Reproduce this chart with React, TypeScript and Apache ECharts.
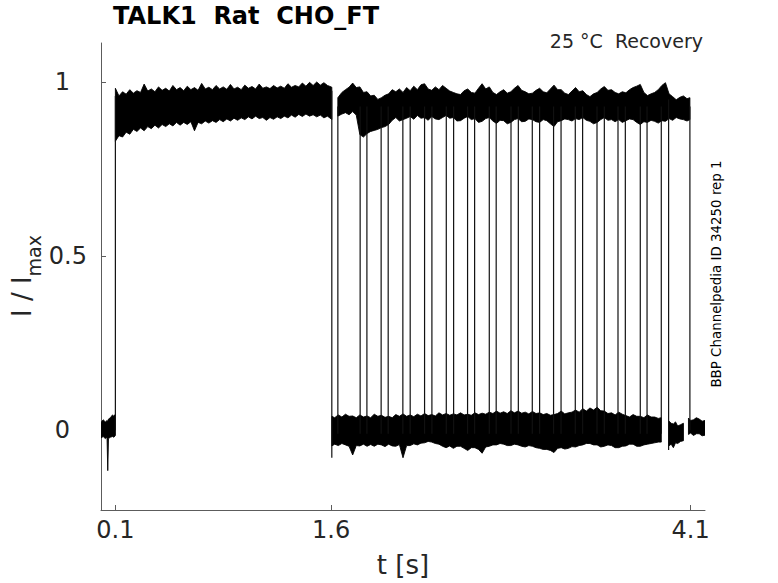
import React, { useEffect, useRef } from "react";
import * as echarts from "echarts";

// ---- axis ticks ----
const xTickValues = [0.1, 1.6, 4.1];
const yTickValues = [0, 0.5, 1];

// ---- holding baseline before the activating step (t < 0.1 s) ----
const baseT = [0.0, 0.015, 0.03, 0.042, 0.047, 0.052, 0.065, 0.08, 0.09, 0.1];
const baseHi = [0.022, 0.03, 0.024, 0.028, 0.026, 0.032, 0.036, 0.044, 0.04, 0.046];
const baseLo = [-0.022, -0.018, -0.024, -0.02, -0.116, -0.024, -0.02, -0.018, -0.02, -0.015];

// ---- open level during first pulse (0.1 .. 1.6 s), envelope of all sweeps ----
const openT = [
  0.1, 0.125, 0.15, 0.175, 0.2, 0.225, 0.25, 0.275, 0.3, 0.325, 0.35, 0.375, 0.4, 0.425, 0.45, 0.475,
  0.5, 0.525, 0.55, 0.575, 0.6, 0.625, 0.65, 0.675, 0.7, 0.725, 0.75, 0.775, 0.8, 0.825, 0.85, 0.875,
  0.9, 0.925, 0.95, 0.975, 1.0, 1.025, 1.05, 1.075, 1.1, 1.125, 1.15, 1.175, 1.2, 1.225, 1.25, 1.275,
  1.3, 1.325, 1.35, 1.375, 1.4, 1.425, 1.45, 1.475, 1.5, 1.525, 1.55, 1.575, 1.6, 1.605,
];
const openHi = [
  0.982, 0.96, 0.972, 0.965, 0.978, 0.968, 0.975, 0.97, 0.994, 0.974, 0.98, 0.972, 0.986, 0.976, 0.982, 0.974,
  0.99, 0.978, 0.984, 0.975, 0.988, 0.978, 0.984, 0.976, 0.996, 0.98, 0.985, 0.978, 0.99, 0.98, 0.986, 0.979,
  0.993, 0.98, 0.985, 0.978, 0.991, 0.982, 0.987, 0.98, 0.994, 0.982, 0.986, 0.981, 0.99, 0.983, 0.988, 0.982,
  0.995, 0.985, 0.99, 0.986, 0.997, 0.988, 0.999, 0.99, 1.0, 0.991, 0.998, 0.99, 0.986, 0.985,
];
const openLo = [
  0.83, 0.846, 0.842, 0.856, 0.85, 0.864, 0.858, 0.868, 0.86, 0.872, 0.866, 0.876, 0.868, 0.878, 0.872, 0.88,
  0.874, 0.884, 0.876, 0.884, 0.878, 0.886, 0.86, 0.884, 0.88, 0.888, 0.882, 0.889, 0.884, 0.892, 0.886, 0.894,
  0.888, 0.896, 0.89, 0.897, 0.892, 0.9, 0.894, 0.902, 0.895, 0.898, 0.89, 0.898, 0.893, 0.9, 0.895, 0.902,
  0.897, 0.905, 0.899, 0.907, 0.901, 0.908, 0.902, 0.906, 0.9, 0.905, 0.897, 0.902, 0.894, 0.892,
];

// ---- recovered open level, envelope of the sweeps that have re-opened ----
const recT = [
  1.647, 1.675, 1.7, 1.725, 1.75, 1.775, 1.8, 1.825, 1.85, 1.875, 1.9, 1.925, 1.95, 1.975,
  2.0, 2.025, 2.05, 2.075, 2.1, 2.125, 2.15, 2.175, 2.2, 2.225, 2.25, 2.275, 2.3, 2.325, 2.35, 2.375,
  2.4, 2.425, 2.45, 2.475, 2.5, 2.525, 2.55, 2.575, 2.6, 2.625, 2.65, 2.675, 2.7, 2.725, 2.75, 2.775,
  2.8, 2.825, 2.85, 2.875, 2.9, 2.925, 2.95, 2.975, 3.0, 3.025, 3.05, 3.075, 3.1, 3.125, 3.15, 3.175,
  3.2, 3.225, 3.25, 3.275, 3.3, 3.325, 3.35, 3.375, 3.4, 3.425, 3.45, 3.475, 3.5, 3.525, 3.55, 3.575,
  3.6, 3.625, 3.65, 3.675, 3.7, 3.725, 3.75, 3.775, 3.8, 3.825, 3.85, 3.875, 3.9, 3.925, 3.95, 3.975,
  4.0, 4.025, 4.05, 4.075, 4.095,
];
const recHi = [
  0.955, 0.97, 0.978, 0.985, 0.997, 0.984, 0.986, 0.97, 0.972, 0.96, 0.962, 0.95, 0.955, 0.962,
  0.966, 0.978, 0.972, 0.98, 0.97, 0.984, 0.975, 0.988, 0.978, 0.992, 0.995, 0.98, 0.976, 0.986, 0.978, 0.99,
  0.982, 0.974, 0.97, 0.966, 0.964, 0.975, 0.98, 0.97, 0.968, 0.982, 0.995, 0.98, 0.986, 0.97, 0.964, 0.972,
  0.978, 0.968, 0.972, 0.982, 0.99, 0.976, 0.972, 0.966, 0.968, 0.976, 0.982, 0.972, 0.969, 0.98, 0.991, 0.978,
  0.978, 0.968, 0.964, 0.974, 0.984, 0.972, 0.975, 0.964, 0.958, 0.966, 0.97, 0.98, 0.987, 0.976, 0.978, 0.97,
  0.966, 0.972, 0.969, 0.978, 0.984, 0.988, 0.993, 0.97, 0.961, 0.966, 0.97, 0.978, 0.99, 0.998, 0.966, 0.958,
  0.949, 0.956, 0.96, 0.952, 0.955,
];
const recLo = [
  0.902, 0.908, 0.912, 0.906, 0.915, 0.905, 0.849, 0.842, 0.852, 0.858, 0.861, 0.864, 0.869, 0.872,
  0.878, 0.89, 0.898, 0.888, 0.892, 0.896, 0.901, 0.893, 0.904, 0.896, 0.898, 0.89, 0.901, 0.894, 0.892, 0.898,
  0.904, 0.896, 0.898, 0.888, 0.889, 0.896, 0.901, 0.892, 0.895, 0.884, 0.887, 0.895, 0.898, 0.888, 0.881, 0.89,
  0.889, 0.88, 0.884, 0.892, 0.895, 0.886, 0.887, 0.894, 0.892, 0.886, 0.884, 0.892, 0.889, 0.88, 0.872, 0.886,
  0.889, 0.894, 0.892, 0.888, 0.895, 0.892, 0.898, 0.89, 0.887, 0.88, 0.884, 0.892, 0.898, 0.89, 0.892, 0.886,
  0.892, 0.884, 0.889, 0.894, 0.892, 0.884, 0.878, 0.886, 0.884, 0.89, 0.887, 0.882, 0.889, 0.887, 0.895, 0.89,
  0.898, 0.894, 0.892, 0.888, 0.892,
];

// ---- closed level after the 1.6 s step, envelope of the sweeps not yet re-opened ----
const closedT = [
  1.605, 1.625, 1.65, 1.675, 1.7, 1.725, 1.75, 1.775, 1.8, 1.825, 1.85, 1.875, 1.9, 1.925, 1.95, 1.975,
  2.0, 2.025, 2.05, 2.075, 2.1, 2.125, 2.15, 2.175, 2.2, 2.225, 2.25, 2.275, 2.3, 2.325, 2.35, 2.375,
  2.4, 2.425, 2.45, 2.475, 2.5, 2.525, 2.55, 2.575, 2.6, 2.625, 2.65, 2.675, 2.7, 2.725, 2.75, 2.775,
  2.8, 2.825, 2.85, 2.875, 2.9, 2.925, 2.95, 2.975, 3.0, 3.025, 3.05, 3.075, 3.1, 3.125, 3.15, 3.175,
  3.2, 3.225, 3.25, 3.275, 3.3, 3.325, 3.35, 3.375, 3.4, 3.425, 3.45, 3.475, 3.5, 3.525, 3.55, 3.575,
  3.6, 3.625, 3.65, 3.675, 3.7, 3.725, 3.75, 3.775, 3.8, 3.825, 3.85, 3.875, 3.896,
];
const closedHi = [
  0.04, 0.036, 0.044, 0.038, 0.046, 0.04, 0.041, 0.036, 0.044, 0.038, 0.041, 0.036, 0.046, 0.04, 0.043, 0.037,
  0.04, 0.036, 0.045, 0.04, 0.047, 0.04, 0.044, 0.039, 0.046, 0.041, 0.048, 0.042, 0.045, 0.041, 0.05, 0.044,
  0.048, 0.043, 0.047, 0.044, 0.05, 0.044, 0.046, 0.043, 0.05, 0.045, 0.049, 0.046, 0.052, 0.048, 0.055, 0.049,
  0.053, 0.048, 0.056, 0.05, 0.055, 0.049, 0.052, 0.047, 0.054, 0.048, 0.05, 0.045, 0.048, 0.043, 0.045, 0.048,
  0.055, 0.047, 0.05, 0.052, 0.058, 0.052, 0.062, 0.055, 0.064, 0.058, 0.066, 0.056, 0.055, 0.048, 0.05, 0.044,
  0.052, 0.046, 0.042, 0.038, 0.045, 0.04, 0.04, 0.036, 0.044, 0.038, 0.038, 0.034, 0.036,
];
const closedLo = [
  -0.045, -0.04, -0.044, -0.038, -0.042, -0.046, -0.071, -0.044, -0.045, -0.04, -0.046, -0.041, -0.046, -0.04, -0.042, -0.047,
  -0.04, -0.045, -0.046, -0.041, -0.079, -0.044, -0.044, -0.039, -0.042, -0.037, -0.036, -0.032, -0.034, -0.038, -0.04, -0.046,
  -0.05, -0.045, -0.052, -0.046, -0.046, -0.052, -0.058, -0.05, -0.05, -0.055, -0.066, -0.048, -0.046, -0.042, -0.042, -0.038,
  -0.04, -0.044, -0.044, -0.04, -0.042, -0.046, -0.048, -0.044, -0.046, -0.05, -0.052, -0.055, -0.055, -0.058, -0.064, -0.052,
  -0.05, -0.054, -0.052, -0.047, -0.048, -0.044, -0.042, -0.038, -0.038, -0.042, -0.042, -0.048, -0.046, -0.042, -0.044, -0.05,
  -0.05, -0.046, -0.045, -0.04, -0.04, -0.046, -0.046, -0.042, -0.04, -0.038, -0.036, -0.034, -0.034,
];

// ---- short closed pieces near the end ----
const tailAT = [3.947, 3.965, 3.98, 3.995, 4.01, 4.03, 4.05];
const tailAHi = [0.027, 0.02, 0.018, 0.024, 0.012, 0.016, 0.02];
const tailALo = [-0.045, -0.04, -0.05, -0.036, -0.038, -0.032, -0.03];
const tailBT = [4.085, 4.1, 4.12, 4.14, 4.16, 4.18, 4.2];
const tailBHi = [0.035, 0.028, 0.03, 0.036, 0.032, 0.026, 0.028];
const tailBLo = [-0.012, -0.008, -0.015, -0.01, -0.01, -0.016, -0.014];

// ---- step transitions (time, lower end, upper end) ----
const stepT = [0.1, 1.605, 1.647, 1.802, 1.849, 1.948, 1.997, 2.099, 2.15, 2.25, 2.301, 2.401, 2.452, 2.549, 2.598, 2.7, 2.748, 2.851, 2.902, 2.999, 3.05, 3.147, 3.199, 3.298, 3.349, 3.449, 3.5, 3.595, 3.646, 3.75, 3.797, 3.896, 3.947, 4.095];
const stepLo = [0.0, -0.079, -0.01, -0.01, -0.01, -0.01, -0.01, -0.01, -0.01, -0.01, -0.01, -0.01, -0.01, -0.01, -0.01, -0.01, -0.01, -0.01, -0.01, -0.01, -0.01, -0.01, -0.01, -0.01, -0.01, -0.01, -0.01, -0.01, -0.01, -0.01, -0.01, -0.01, -0.057, 0.0];
const stepHi = [0.96, 0.975, 0.93, 0.93, 0.93, 0.93, 0.93, 0.93, 0.93, 0.93, 0.93, 0.93, 0.93, 0.93, 0.93, 0.93, 0.93, 0.93, 0.93, 0.93, 0.93, 0.93, 0.93, 0.93, 0.93, 0.93, 0.93, 0.93, 0.93, 0.93, 0.93, 0.93, 0.95, 0.93];

const FONT = "DejaVu Sans";
const TXT = "#262626";
const AX = "#5c5c5c";

function bandSeries(t: number[], lo: number[], hi: number[]) {
  return {
    type: "custom",
    silent: true,
    clip: true,
    data: t.map((v, i) => [v, lo[i], hi[i]]),
    encode: { x: 0, y: [1, 2] },
    renderItem: (params: any, api: any) => {
      if (params.dataIndex !== 0) return null;
      const pts: number[][] = [];
      for (let i = 0; i < t.length; i++) pts.push(api.coord([t[i], hi[i]]));
      for (let i = t.length - 1; i >= 0; i--) pts.push(api.coord([t[i], lo[i]]));
      return {
        type: "polygon",
        shape: { points: pts },
        style: { fill: "#000", stroke: "#000", lineWidth: 0.9, lineJoin: "miter" },
      };
    },
  };
}

export default function App() {
  const ref = useRef<HTMLDivElement>(null);
  useEffect(() => {
    document.body.style.margin = "0";
    const chart = echarts.init(ref.current!, null, { renderer: "svg" });
    chart.setOption({
      animation: false,
      backgroundColor: "#fff",
      grid: { left: 101, top: 43, width: 604, height: 469, containLabel: false },
      xAxis: {
        type: "value",
        min: 0,
        max: 4.2,
        name: "t [s]",
        nameLocation: "middle",
        nameGap: 55,
        nameTextStyle: { fontFamily: FONT, fontSize: 26, color: TXT, verticalAlign: "middle" },
        axisLine: { show: true, onZero: false, lineStyle: { color: AX, width: 1 } },
        axisTick: { show: true, inside: true, length: 5, customValues: xTickValues, lineStyle: { color: AX } },
        axisLabel: {
          customValues: xTickValues,
          margin: 8,
          fontFamily: FONT,
          fontSize: 24,
          color: TXT,
          formatter: (v: number) => String(v),
        },
        splitLine: { show: false },
      },
      yAxis: {
        type: "value",
        min: -0.229,
        max: 1.112,
        axisLine: { show: true, onZero: false, lineStyle: { color: AX, width: 1 } },
        axisTick: { show: true, inside: true, length: 5, customValues: yTickValues, lineStyle: { color: AX } },
        axisLabel: {
          customValues: yTickValues,
          margin: 14,
          fontFamily: FONT,
          fontSize: 24,
          color: TXT,
          formatter: (v: number) => (v === 0.5 ? "0.5" : "{n|" + String(v) + "}"),
          rich: { n: { fontFamily: FONT, fontSize: 24, color: TXT, padding: [0, 17, 0, 0] } },
        },
        splitLine: { show: false },
      },
      graphic: [
        {
          type: "text",
          left: 113,
          top: 4,
          style: { text: "TALK1  Rat  CHO_FT", font: `bold 24px "${FONT}"`, fill: "#000" },
        },
        {
          type: "text",
          x: 703,
          y: 41,
          style: { text: "25 °C  Recovery", font: `19px "${FONT}"`, fill: TXT, align: "right", verticalAlign: "middle" },
        },
        {
          type: "text",
          x: 716,
          y: 274,
          rotation: Math.PI / 2,
          style: { text: "BBP Channelpedia ID 34250 rep 1", font: `13.4px "${FONT}"`, fill: "#000", align: "center", verticalAlign: "middle" },
        },
        {
          type: "group",
          x: 22,
          y: 277,
          rotation: Math.PI / 2,
          children: [
            { type: "text", x: 0.6, y: 0, style: { text: "I / I", font: `26px "${FONT}"`, fill: TXT, align: "right", verticalAlign: "middle" } },
            { type: "text", x: 0.6, y: 11.5, style: { text: "max", font: `19px "${FONT}"`, fill: TXT, align: "left", verticalAlign: "middle" } },
          ],
        },
      ],
      series: [
        bandSeries(baseT, baseLo, baseHi),
        bandSeries(openT, openLo, openHi),
        bandSeries(recT, recLo, recHi),
        bandSeries(closedT, closedLo, closedHi),
        bandSeries(tailAT, tailALo, tailAHi),
        bandSeries(tailBT, tailBLo, tailBHi),
        {
          type: "custom",
          silent: true,
          clip: true,
          data: stepT.map((v, i) => [v, stepLo[i], stepHi[i]]),
          encode: { x: 0, y: [1, 2] },
          renderItem: (params: any, api: any) => {
            const a = api.coord([api.value(0), api.value(1)]);
            const b = api.coord([api.value(0), api.value(2)]);
            return {
              type: "line",
              shape: { x1: a[0], y1: a[1], x2: b[0], y2: b[1] },
              style: { stroke: "#111", lineWidth: 1.2 },
            };
          },
        },
      ],
    });
    return () => chart.dispose();
  }, []);
  return <div ref={ref} style={{ width: 778, height: 583 }} />;
}
